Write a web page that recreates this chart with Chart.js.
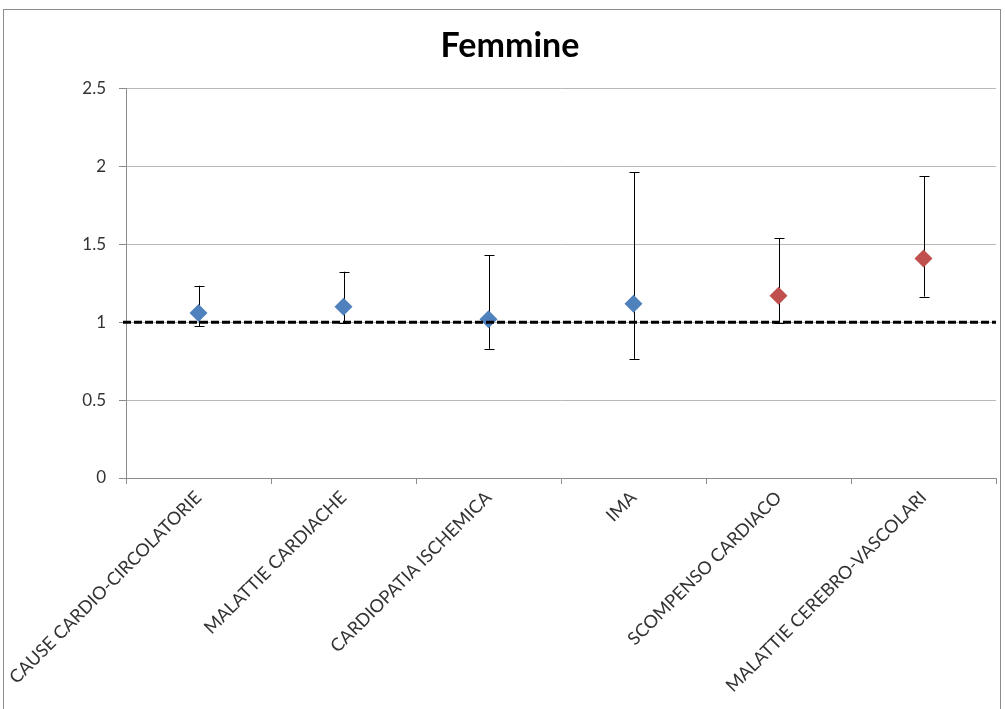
<!DOCTYPE html>
<html>
<head>
<meta charset="utf-8">
<script src="https://cdn.jsdelivr.net/npm/chart.js@4/dist/chart.umd.min.js"></script>
<style>
  html, body { margin: 0; padding: 0; background: #fff; overflow: hidden; }
  #frame {
    position: absolute; left: 3px; top: 9px;
    width: 996px; height: 699px;
    border: 1px solid #8c8c8c; border-bottom: none;
  }
  #chart { display: block; }
</style>
</head>
<body>
<div id="frame"><canvas id="chart" width="996" height="700"></canvas></div>
<script>
// --- Data ---
const categories = [
    'CAUSE CARDIO-CIRCOLATORIE',
    'MALATTIE CARDIACHE',
    'CARDIOPATIA ISCHEMICA',
    'IMA',
    'SCOMPENSO CARDIACO',
    'MALATTIE CEREBRO-VASCOLARI'
];
const estimates = [1.06, 1.10, 1.02, 1.12, 1.17, 1.41];
const lower     = [0.975, 0.995, 0.83, 0.765, 0.997, 1.165];
const upper     = [1.235, 1.325, 1.43, 1.965, 1.54, 1.94];
const significant = [false, false, false, false, true, true];
const yTicks = [0, 0.5, 1, 1.5, 2, 2.5];
const refValue = 1;

const COLORS = {
    blue: '#4f81bd',
    red: '#c0504d',
    grid: '#b8b8b8',
    axis: '#8c8c8c',
    text: '#333333'
};
const FONT = "Lato, 'Liberation Sans', sans-serif";

const pointColors = significant.map(s => s ? COLORS.red : COLORS.blue);

// --- Error bars (drawn under the markers) ---
const errorBars = {
    id: 'errorBars',
    beforeDatasetsDraw(chart) {
        const { ctx, scales: { x, y } } = chart;
        ctx.save();
        ctx.strokeStyle = '#000';
        ctx.lineWidth = 1;
        categories.forEach((c, i) => {
            const px = Math.round(x.getPixelForValue(i)) + 0.5;
            const yl = y.getPixelForValue(lower[i]);
            const yu = y.getPixelForValue(upper[i]);
            ctx.beginPath();
            ctx.moveTo(px, yl); ctx.lineTo(px, yu);
            ctx.moveTo(px - 5, Math.round(yl) + 0.5); ctx.lineTo(px + 5, Math.round(yl) + 0.5);
            ctx.moveTo(px - 5, Math.round(yu) + 0.5); ctx.lineTo(px + 5, Math.round(yu) + 0.5);
            ctx.stroke();
        });
        ctx.restore();
    }
};

// --- Dashed reference line at 1 ---
const refLine = {
    id: 'refLine',
    afterDatasetsDraw(chart) {
        const { ctx, chartArea, scales: { y } } = chart;
        const py = y.getPixelForValue(refValue);
        ctx.save();
        ctx.strokeStyle = '#000';
        ctx.lineWidth = 3;
        ctx.setLineDash([8, 3]);
        ctx.beginPath();
        ctx.moveTo(chartArea.left - 3, py);
        ctx.lineTo(chartArea.right, py);
        ctx.stroke();
        ctx.restore();
    }
};

new Chart(document.getElementById('chart'), {
    type: 'line',
    data: {
        labels: categories,
        datasets: [{
            data: estimates,
            showLine: false,
            clip: false,
            pointStyle: 'rectRot',
            pointRadius: 9,
            pointHoverRadius: 9,
            pointBackgroundColor: pointColors,
            pointBorderColor: pointColors,
            pointBorderWidth: 0
        }]
    },
    options: {
        responsive: false,
        animation: false,
        layout: { autoPadding: false, padding: { left: 20, right: 4, top: 0, bottom: 0 } },
        plugins: {
            legend: { display: false },
            tooltip: { enabled: false },
            title: {
                display: true,
                text: 'Femmine',
                color: '#000',
                font: { family: FONT, size: 34, weight: 'bold' },
                padding: { top: 16, bottom: 22 }
            }
        },
        scales: {
            x: {
                offset: true,
                grid: { offset: true, drawOnChartArea: false, drawTicks: true, tickLength: 6, color: COLORS.axis },
                border: { color: COLORS.axis },
                ticks: {
                    autoSkip: false,
                    minRotation: 45,
                    maxRotation: 45,
                    padding: 3,
                    color: COLORS.text,
                    font: { family: FONT, size: 18 }
                },
                afterFit: s => { s.height = 232; s.paddingLeft = 0; s.paddingRight = 0; }
            },
            y: {
                min: yTicks[0],
                max: yTicks[yTicks.length - 1],
                afterBuildTicks: s => { s.ticks = yTicks.map(v => ({ value: v })); },
                grid: { color: COLORS.grid, tickLength: 7, tickColor: COLORS.axis },
                border: { color: COLORS.axis },
                ticks: {
                    padding: 13,
                    color: COLORS.text,
                    font: { family: FONT, size: 17 },
                    callback: v => String(v)
                },
                afterFit: s => { s.width = 102; }
            }
        }
    },
    plugins: [errorBars, refLine]
});
</script>
</body>
</html>
